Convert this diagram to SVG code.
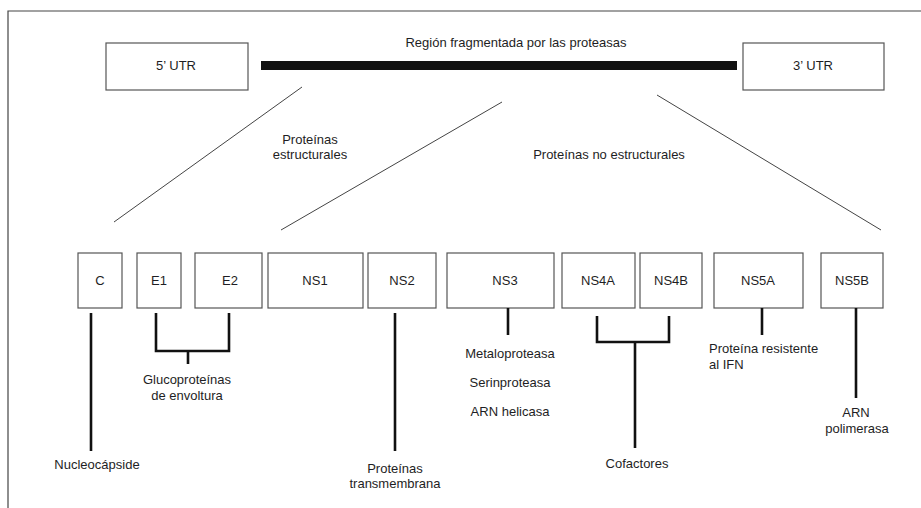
<svg xmlns="http://www.w3.org/2000/svg" width="921" height="508" viewBox="0 0 921 508">
<style>
text{font-family:"Liberation Sans",Arial,sans-serif;font-size:13px;fill:#1e1e24;text-anchor:middle}
.box{fill:#fff;stroke:#555;stroke-width:1.2}
.thin{stroke:#444;stroke-width:1;fill:none}
.thick{stroke:#111;stroke-width:2.6;fill:none}
</style>
<rect width="921" height="508" fill="#fff"/>
<path d="M8,508 V11 H921" fill="none" stroke="#444" stroke-width="1.2"/>
<g id="top">
<text x="516" y="47">Región fragmentada por las proteasas</text>
<rect x="261" y="61" width="476" height="9" fill="#111"/>
</g>
<g id="utr5"><rect class="box" x="106" y="43" width="142" height="47"/><text x="176" y="70">5’ UTR</text></g>
<g id="utr3"><rect class="box" x="743" y="43" width="141" height="47"/><text x="813" y="70">3’ UTR</text></g>
<g id="labels-mid">
<text x="310" y="144">Proteínas</text>
<text x="310" y="159">estructurales</text>
<text x="609" y="159">Proteínas no estructurales</text>
</g>
<g id="C"><rect class="box" x="78" y="253" width="44" height="55"/><text x="100" y="285">C</text></g>
<g id="E1"><rect class="box" x="137" y="253" width="44" height="55"/><text x="159" y="285">E1</text></g>
<g id="E2"><rect class="box" x="195" y="253" width="67" height="55"/><text x="230" y="285">E2</text></g>
<g id="NS1"><rect class="box" x="268" y="253" width="95" height="55"/><text x="315" y="285">NS1</text></g>
<g id="NS2"><rect class="box" x="368" y="253" width="68" height="55"/><text x="402" y="285">NS2</text></g>
<g id="NS3"><rect class="box" x="447" y="253" width="107" height="55"/><text x="505" y="285">NS3</text></g>
<g id="NS4A"><rect class="box" x="562" y="253" width="73" height="55"/><text x="598" y="285">NS4A</text></g>
<g id="NS4B"><rect class="box" x="640" y="253" width="62" height="55"/><text x="671" y="285">NS4B</text></g>
<g id="NS5A"><rect class="box" x="714" y="253" width="89" height="55"/><text x="758" y="285">NS5A</text></g>
<g id="NS5B"><rect class="box" x="821" y="253" width="62" height="55"/><text x="852" y="285">NS5B</text></g>
<g id="connectors">
<line class="thin" x1="302" y1="87" x2="114" y2="222"/>
<line class="thin" x1="502" y1="102" x2="281" y2="230"/>
<line class="thin" x1="657" y1="95" x2="881" y2="230"/>
<line class="thick" x1="91" y1="313" x2="91" y2="451"/>
<path class="thick" d="M156,313 V351 H229 V313 M188,351 V364"/>
<line class="thick" x1="395" y1="313" x2="395" y2="451"/>
<line class="thick" x1="508" y1="308" x2="508" y2="335"/>
<path class="thick" d="M597,316 V342 H669 V316 M635,342 V448"/>
<line class="thick" x1="762" y1="308" x2="762" y2="335"/>
<line class="thick" x1="856" y1="308" x2="856" y2="398"/>
</g>
<g id="desc">
<text x="97" y="469">Nucleocápside</text>
<text x="187" y="384">Glucoproteínas</text>
<text x="187" y="400">de envoltura</text>
<text x="395" y="473">Proteínas</text>
<text x="395" y="488">transmembrana</text>
<text x="510" y="358">Metaloproteasa</text>
<text x="510" y="387">Serinproteasa</text>
<text x="510" y="416">ARN helicasa</text>
<text x="637" y="468">Cofactores</text>
<text x="709" y="353" style="text-anchor:start">Proteína resistente</text>
<text x="709" y="369" style="text-anchor:start">al IFN</text>
<text x="856" y="417">ARN</text>
<text x="857" y="433">polimerasa</text>
</g>
</svg>
